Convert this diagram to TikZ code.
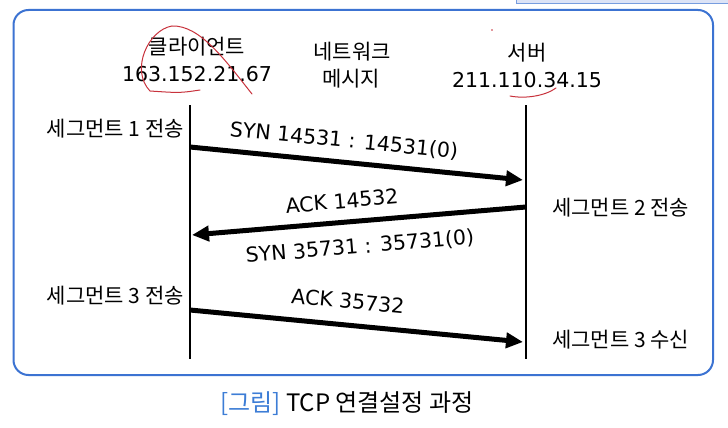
\documentclass[tikz,border=0pt]{standalone}
\usepackage{fontspec}
\setmainfont{DejaVu Sans}
\newfontfamily\kr{Noto Sans CJK KR}
\usetikzlibrary{arrows.meta}
\definecolor{boxblue}{HTML}{3C73D2}
\definecolor{capblue}{HTML}{3D7DD6}
\definecolor{penred}{HTML}{C8323C}
\definecolor{paleblue}{HTML}{DCE3F6}
\begin{document}
\begin{tikzpicture}[x=1pt,y=-1pt,
  lifeline/.style={line width=2.6pt,black},
  msg/.style={line width=5pt,-{Triangle[length=17pt,width=15pt]}},
  krlab/.style={font=\kr\fontsize{21}{24}\selectfont,inner sep=0pt},
  latlab/.style={font=\fontsize{20.5}{23}\selectfont,inner sep=0pt},
  pen/.style={penred,line width=1pt,line cap=round}]
\useasboundingbox (0,0) rectangle (728,428);
\fill[white] (0,0) rectangle (728,428);
% top right pale box edge
\fill[paleblue] (516,-2) rectangle (730,3);
\draw[boxblue!70,line width=0.8pt] (516,-2) -- (516,3) -- (730,3);
% main frame
\draw[boxblue,line width=2pt,rounded corners=15pt] (13.5,10) rectangle (713,375);
% headers
\node[krlab] (cl) at (197,47) {클라이언트};
\node[latlab] (cip) at (197,74) {163.152.21.67};
\node[krlab] (nw) at (352,52) {네트워크};
\node[krlab] (nm) at (351,79) {메시지};
\node[krlab] (sv) at (527,53) {서버};
\node[latlab] (sip) at (527,80) {211.110.34.15};
% lifelines
\coordinate (ct) at (190,105);
\coordinate (cb) at (190,359);
\coordinate (st) at (526,105);
\coordinate (sb) at (526,359);
\draw[lifeline] (ct) -- (cb);
\draw[lifeline] (st) -- (sb);
% message end points
\coordinate (a1) at (190,147);
\coordinate (b1) at (523,180);
\coordinate (a2) at (526,207);
\coordinate (b2) at (192,235);
\coordinate (a3) at (190,310);
\coordinate (b3) at (523,342);
\draw[msg] (a1) -- (b1);
\draw[msg] (a2) -- (b2);
\draw[msg] (a3) -- (b3);
% message labels
\node[latlab,rotate=-5.7] (m1) at (344,141) {SYN 14531 : 14531(0)};
\node[latlab,rotate=4.8] (m2) at (342,201) {ACK 14532};
\node[latlab,rotate=4.8] (m3) at (360,247) {SYN 35731 : 35731(0)};
\node[latlab,rotate=-5.5] (m4) at (348,301) {ACK 35732};
% side labels
\node[krlab,anchor=east] (s1) at (184,129) {세그먼트 1 전송};
\node[krlab,anchor=west] (s2) at (552,208) {세그먼트 2 전송};
\node[krlab,anchor=east] (s3) at (184,296) {세그먼트 3 전송};
\node[krlab,anchor=west] (s4) at (552,340) {세그먼트 3 수신};
% caption
\node[font=\kr\fontsize{24}{26}\selectfont,inner sep=0pt] (cap) at (347,404)
  {\textcolor{capblue}{[그림]} TCP 연결설정 과정};
% handwritten red marks
\draw[pen] (200,90) .. controls (180,93) .. (150,91)
  .. controls (130,70) and (148,30) .. (172,26)
  .. controls (200,25) and (225,60) .. (252,94);
\draw[pen] (510,96) .. controls (525,99) and (545,96) .. (556,88);
\fill[penred] (492,30) circle (0.9);
\end{tikzpicture}
\end{document}
